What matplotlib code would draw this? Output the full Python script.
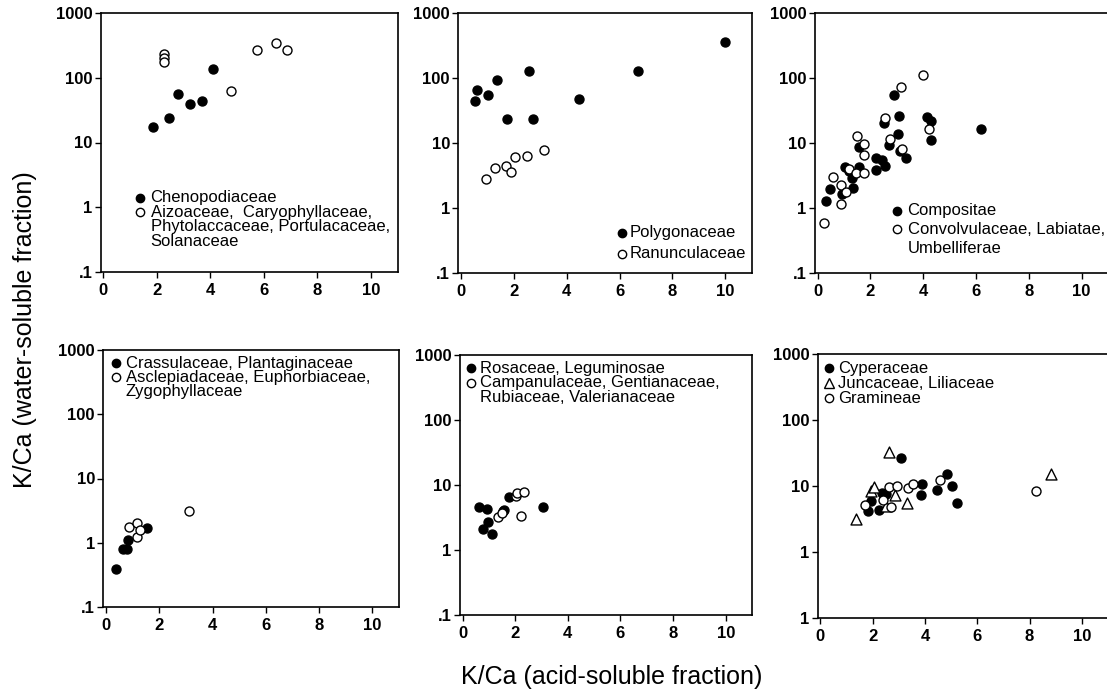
import matplotlib.pyplot as plt
from matplotlib.ticker import NullLocator

plt.rcParams['font.family'] = ['Liberation Sans', 'DejaVu Sans']

# K/Ca: x = acid-soluble fraction, y = water-soluble fraction
# panel 1
cheno_x = [1.84, 2.45, 2.80, 3.25, 3.67, 4.08]
cheno_y = [17.2, 24.3, 57, 40, 44, 137]
aizo_x = [2.27, 2.27, 2.27, 4.76, 5.75, 6.44, 6.87]
aizo_y = [235, 205, 172, 62, 265, 345, 265]

# panel 2
polyg_x = [0.55, 0.61, 1.02, 1.35, 1.73, 2.56, 2.71, 4.45, 6.71, 9.98]
polyg_y = [45, 65, 55, 93, 23.5, 128, 23.5, 47, 130, 352]
ranun_x = [0.94, 1.27, 1.72, 1.90, 2.06, 2.49, 3.13]
ranun_y = [2.84, 4.06, 4.46, 3.56, 6.08, 6.37, 7.9]

# panel 3
compo_x = [0.30, 0.45, 0.94, 1.04, 1.17, 1.32, 1.35, 1.56, 1.58, 2.20, 2.22, 2.42,
           2.57, 2.51, 2.71, 2.89, 3.06, 3.10, 3.12, 3.34, 4.13, 4.28, 4.28, 6.18]
compo_y = [1.28, 1.94, 1.62, 4.28, 3.72, 2.93, 2.06, 8.83, 4.34, 3.80, 5.97, 5.43,
           4.38, 20, 9.4, 55.5, 14, 25.6, 7.57, 5.83, 25.4, 21.5, 11.1, 16.7]
convo_x = [0.23, 0.58, 0.90, 0.90, 1.09, 1.20, 1.45, 1.48, 1.77, 1.75, 1.77,
           2.55, 2.74, 3.15, 3.19, 4.00, 4.22]
convo_y = [0.58, 3.04, 2.26, 1.16, 1.78, 3.94, 3.42, 12.8, 9.6, 6.56, 3.42,
           24.2, 11.5, 72, 8.2, 113, 16.7]

# panel 4
crass_x = [0.38, 0.63, 0.78, 0.81, 1.54]
crass_y = [0.39, 0.80, 0.80, 1.12, 1.69]
ascle_x = [0.88, 1.16, 1.16, 1.29, 3.13]
ascle_y = [1.75, 2.0, 1.21, 1.57, 3.14]

# panel 5
rosa_x = [0.62, 0.94, 0.78, 0.97, 1.12, 1.52, 1.59, 1.76, 3.07]
rosa_y = [4.53, 4.27, 2.1, 2.67, 1.76, 3.98, 4.1, 6.46, 4.53]
campa_x = [1.34, 1.49, 2.01, 2.07, 2.32, 2.20]
campa_y = [3.26, 3.66, 6.85, 7.45, 7.7, 3.37]

# panel 6
cyper_x = [1.82, 1.92, 2.26, 2.36, 2.52, 3.07, 3.89, 3.86, 4.47, 4.83, 5.02, 5.24]
cyper_y = [4.2, 6.0, 4.35, 7.8, 7.6, 26.8, 10.9, 7.2, 8.6, 15.1, 9.9, 5.53]
junc_x = [1.36, 1.92, 2.07, 2.63, 2.52, 2.86, 3.30, 8.82]
junc_y = [3.19, 8.3, 9.5, 32.8, 5.0, 7.4, 5.5, 15.1]
grami_x = [1.71, 2.38, 2.61, 2.71, 2.92, 3.36, 3.53, 4.59, 8.26]
grami_y = [5.2, 6.2, 9.5, 4.85, 9.9, 9.35, 10.9, 12.3, 8.4]

x_ticks = [0, 2, 4, 6, 8, 10]
y_ticks = [0.1, 1, 10, 100, 1000]
y_tick_labels = ['.1', '1', '10', '100', '1000']

fig = plt.figure(figsize=(11.07, 6.94), dpi=100)
W, H = 1107, 694


def px_axes(left, top, right, bottom):
    return fig.add_axes([left / W, 1 - bottom / H, (right - left) / W, (bottom - top) / H])


def style(ax, labels=y_tick_labels):
    ax.set_yscale('log')
    ax.set_xlim(-0.1, 11)
    ax.set_ylim(0.1, 1000)
    ax.set_xticks(x_ticks)
    ax.set_yticks(y_ticks)
    ax.set_yticklabels(labels)
    ax.yaxis.set_minor_locator(NullLocator())
    ax.tick_params(direction='out', length=4, width=1, labelsize=12, pad=2)
    ax.tick_params(axis='x', pad=4)
    for lab in ax.get_xticklabels() + ax.get_yticklabels():
        lab.set_fontweight('bold')
    for s in ax.spines.values():
        s.set_linewidth(1.2)


def pts(ax, x, y, filled=True, marker='o'):
    size = 62 if marker == '^' else 42
    ax.scatter(x, y, s=size, marker=marker, facecolors='black' if filled else 'white',
               edgecolors='black', linewidths=1, zorder=3 if filled else 4)


def key(ax, mx, tx, y0, dy, entries):
    y = y0
    for marker, filled, lines in entries:
        ax.plot([mx], [y], marker=marker, ms=7 if marker == '^' else 6,
                mfc='black' if filled else 'white',
                mec='black', mew=1, transform=ax.transAxes, clip_on=False)
        for line in lines:
            ax.text(tx, y, line, transform=ax.transAxes, va='center', ha='left', fontsize=12)
            y -= dy


ax1 = px_axes(100.7, 13, 397.7, 272)
style(ax1)
pts(ax1, cheno_x, cheno_y)
pts(ax1, aizo_x, aizo_y, filled=False)
key(ax1, 0.132, 0.168, 0.287, 0.056,
    [('o', True, ['Chenopodiaceae']),
     ('o', False, ['Aizoaceae,  Caryophyllaceae,', 'Phytolaccaceae, Portulacaceae,', 'Solanaceae'])])

ax2 = px_axes(458.3, 13, 751.7, 273)
style(ax2)
pts(ax2, polyg_x, polyg_y)
pts(ax2, ranun_x, ranun_y, filled=False)
key(ax2, 0.557, 0.583, 0.155, 0.081,
    [('o', True, ['Polygonaceae']), ('o', False, ['Ranunculaceae'])])

ax3 = px_axes(815, 13, 1108, 273)
style(ax3)
pts(ax3, compo_x, compo_y)
pts(ax3, convo_x, convo_y, filled=False)
key(ax3, 0.281, 0.316, 0.240, 0.072,
    [('o', True, ['Compositae']),
     ('o', False, ['Convolvulaceae, Labiatae,', 'Umbelliferae'])])

ax4 = px_axes(103.3, 350, 399, 607)
style(ax4)
pts(ax4, crass_x, crass_y)
pts(ax4, ascle_x, ascle_y, filled=False)
key(ax4, 0.042, 0.076, 0.948, 0.055,
    [('o', True, ['Crassulaceae, Plantaginaceae']),
     ('o', False, ['Asclepiadaceae, Euphorbiaceae,', 'Zygophyllaceae'])])

ax5 = px_axes(460, 355, 752, 615)
style(ax5)
pts(ax5, rosa_x, rosa_y)
pts(ax5, campa_x, campa_y, filled=False)
key(ax5, 0.037, 0.068, 0.949, 0.0565,
    [('o', True, ['Rosaceae, Leguminosae']),
     ('o', False, ['Campanulaceae, Gentianaceae,', 'Rubiaceae, Valerianaceae'])])

ax6 = px_axes(817.7, 354, 1108, 618)
style(ax6, labels=['1', '1', '10', '100', '1000'])
pts(ax6, cyper_x, cyper_y)
pts(ax6, junc_x, junc_y, filled=False, marker='^')
pts(ax6, grami_x, grami_y, filled=False)
key(ax6, 0.040, 0.071, 0.946, 0.057,
    [('o', True, ['Cyperaceae']), ('^', False, ['Juncaceae, Liliaceae']),
     ('o', False, ['Gramineae'])])

fig.text(0.0226, 0.5245, 'K/Ca (water-soluble fraction)', rotation=90,
         ha='center', va='center', fontsize=18)
fig.text(0.553, 0.024, 'K/Ca (acid-soluble fraction)', ha='center', va='center', fontsize=18)

fig.savefig('out.png', dpi=100)
